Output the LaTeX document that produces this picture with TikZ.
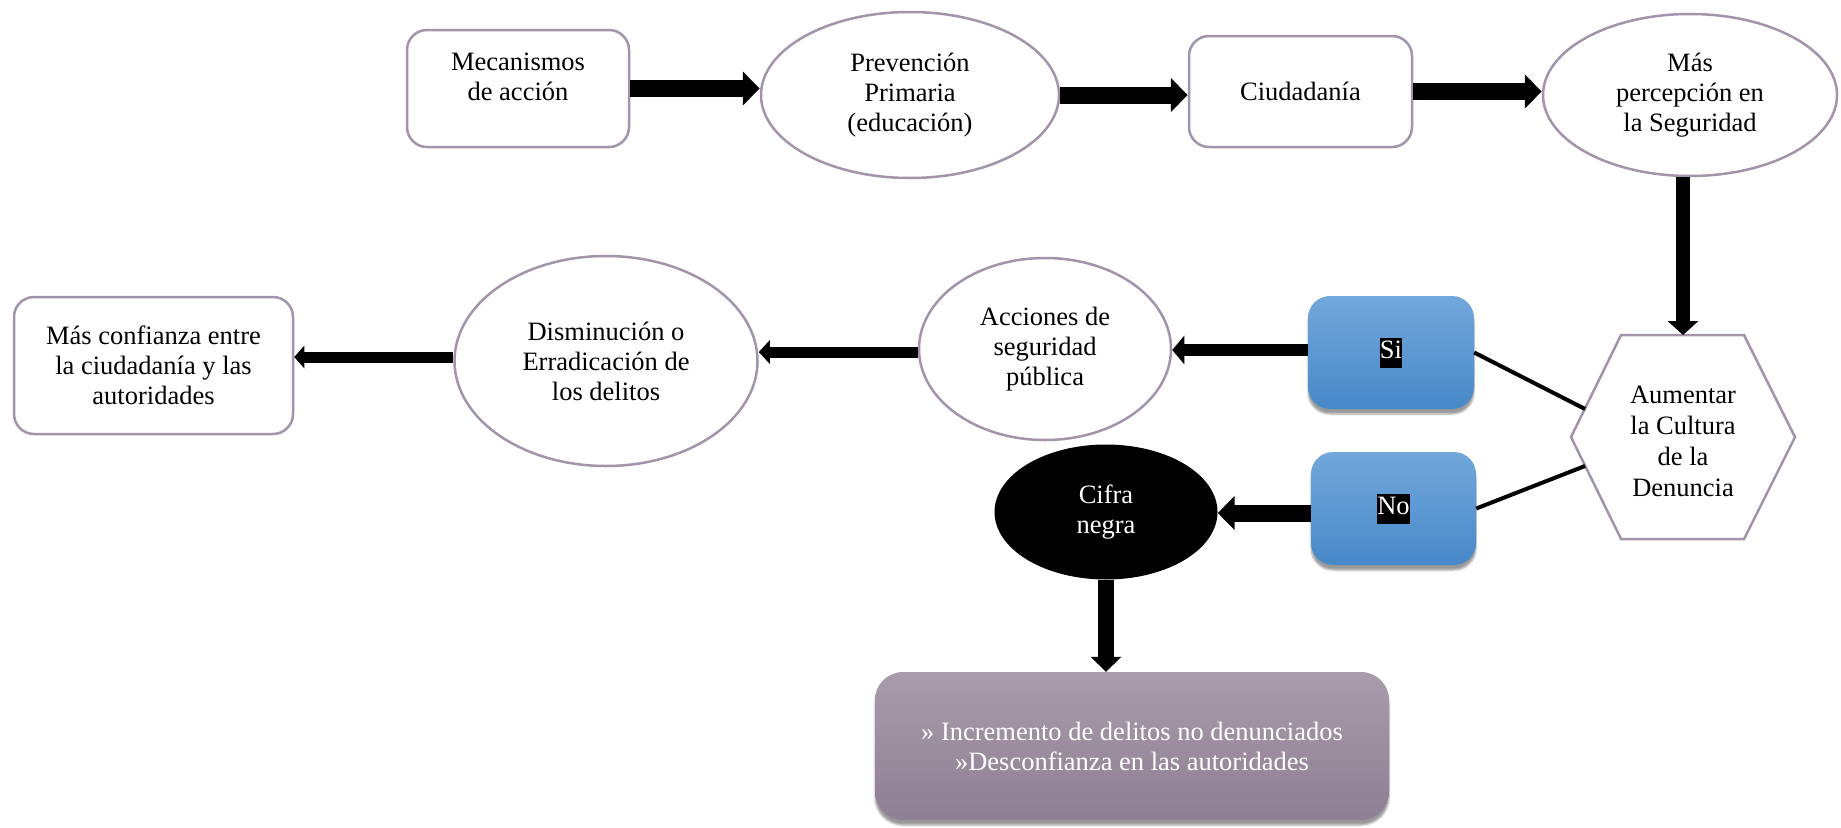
\documentclass[tikz,border=0pt]{standalone}
\usepackage{fontspec}
\setmainfont{Liberation Serif}
\usetikzlibrary{arrows.meta,shapes.geometric,shadows.blur,calc}
\definecolor{bord}{RGB}{162,148,170}
\definecolor{bluetop}{RGB}{114,168,218}
\definecolor{bluebot}{RGB}{72,136,200}
\definecolor{mauvetop}{RGB}{168,156,172}
\definecolor{mauvebot}{RGB}{142,127,146}
\newcommand{\hlbox}[1]{{\setlength{\fboxsep}{0pt}\colorbox{black}{\strut\textcolor{white}{#1}}}}
\begin{document}
\begin{tikzpicture}[x=1pt,y=-1pt,
  every node/.style={font=\fontsize{26.5}{30}\selectfont, align=center, inner sep=0pt},
  rbox/.style={draw=bord, line width=2.5pt, rounded corners=20pt, fill=white},
  ell/.style={draw=bord, line width=2.5pt, ellipse, fill=white},
  bluebox/.style={rounded corners=22pt, top color=bluetop, bottom color=bluebot,
    blur shadow={shadow xshift=0pt, shadow yshift=-5pt, shadow opacity=40}},
  big/.style={line width=17pt, -{Triangle[width=33pt,length=17pt]}},
  vbig/.style={line width=14pt, -{Triangle[width=30pt,length=14pt]}},
  midA/.style={line width=12.5pt, -{Triangle[width=28pt,length=12pt]}},
  midB/.style={line width=11pt, -{Triangle[width=23pt,length=11pt]}},
  midC/.style={line width=11pt, -{Triangle[width=22pt,length=10pt]}},
  link/.style={line width=4pt}
]
\useasboundingbox (0,0) rectangle (1841,827);

% top row
\node[rbox, minimum width=222pt, minimum height=117pt] (mec) at (518,88.5) {Mecanismos\\de acción\\[-7pt]\mbox{}};
\node[ell, minimum width=298pt, minimum height=166pt] (prev) at (910,95) {Prevención\\Primaria\\(educación)};
\node[rbox, minimum width=223pt, minimum height=111pt] (ciu) at (1300.5,91.5) {Ciudadanía};
\node[ell, minimum width=294pt, minimum height=162pt] (mas) at (1690,95) {Más\\percepción en\\la Seguridad};

% hexagon
\draw[draw=bord, line width=2.5pt, fill=white] (1571,437) -- (1621,335) -- (1744,335) -- (1795,437) -- (1744,539) -- (1621,539) -- cycle;
\coordinate (hexT) at (1683,335);
\coordinate (hexSi) at (1585,409);
\coordinate (hexNo) at (1585,466);
\node[font=\fontsize{26.5}{31}\selectfont] (hex) at (1683,441) {Aumentar\\la Cultura\\de la\\Denuncia};

% decision boxes
\node[bluebox, minimum width=166pt, minimum height=113pt] (si) at (1391,352.5) {\hlbox{Si}};
\node[bluebox, minimum width=165pt, minimum height=113pt] (no) at (1393.5,508.5) {\hlbox{No}};

% middle row
\node[ell, minimum width=252pt, minimum height=182pt] (acc) at (1045,349) {Acciones de\\seguridad\\pública};
\node[ell, minimum width=303pt, minimum height=210pt] (dis) at (606,361) {Disminución o\\Erradicación de\\los delitos};
\node[rbox, minimum width=279pt, minimum height=137pt] (conf) at (153.5,365.5) {Más confianza entre\\la ciudadanía y las\\autoridades};

% cifra negra
\node[ellipse, fill=black, text=white, minimum width=223pt, minimum height=135pt] (cif) at (1106,512) {Cifra\\negra};
\node[rounded corners=28pt, top color=mauvetop, bottom color=mauvebot, text=white,
  blur shadow={shadow xshift=0pt, shadow yshift=-5pt, shadow opacity=40},
  minimum width=514pt, minimum height=148pt] (bot) at (1132,746) {» Incremento de delitos no denunciados\\»Desconfianza en las autoridades};

% arrows
\draw[big] (mec.east) -- (mec.east -| prev.west);
\draw[big] (prev.east) -- (prev.east -| ciu.west);
\draw[big] (ciu.east) -- (ciu.east -| mas.west);
\draw[vbig] (hexT |- mas.south) -- (hexT);
\draw[midA] ([yshift=2.5pt]si.west) -- ([yshift=2.5pt]si.west -| acc.east);
\draw[midB] ([yshift=-3pt]acc.west) -- ([yshift=-3pt]acc.west -| dis.east);
\draw[midC] ([yshift=4pt]dis.west) -- ([yshift=4pt]dis.west -| conf.east);
\draw[big] ([yshift=-4.5pt]no.west) -- ([yshift=-4.5pt]no.west -| cif.east);
\draw[line width=16pt, -{Triangle[width=30pt,length=15pt]}] (cif.south) -- (cif.south |- bot.north);
\draw[link] (si.east) -- (hexSi);
\draw[link] (no.east) -- (hexNo);
\end{tikzpicture}
\end{document}
